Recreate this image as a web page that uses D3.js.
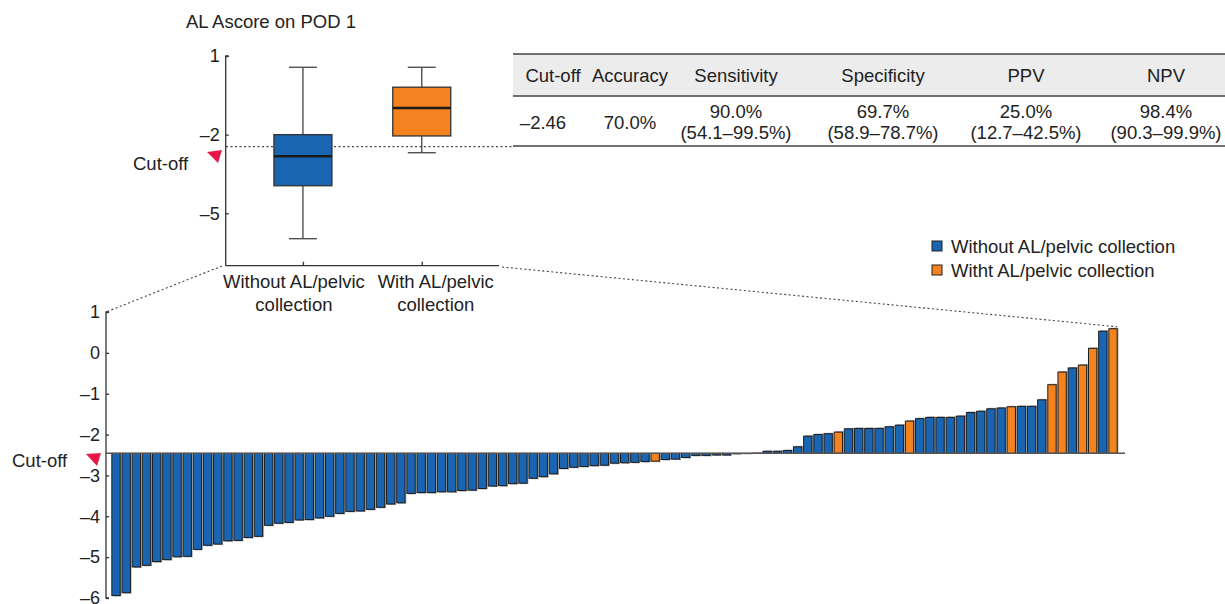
<!DOCTYPE html>
<html>
<head>
<meta charset="utf-8">
<script src="https://cdn.jsdelivr.net/npm/d3@7"></script>
<style>
  body { margin: 0; background: #fff; }
  text { font-family: "Liberation Sans", Arial, sans-serif; fill: #222; }
</style>
</head>
<body>
<div id="chart"></div>
<script>
// sorted AL Ascore per patient (bottom chart)
const values = [-5.94,-5.87,-5.24,-5.20,-5.11,-5.06,-4.99,-4.98,-4.81,-4.71,
  -4.68,-4.60,-4.59,-4.52,-4.49,-4.22,-4.17,-4.15,-4.09,-4.08,
  -4.04,-4.00,-3.93,-3.88,-3.87,-3.83,-3.78,-3.70,-3.67,-3.44,
  -3.42,-3.42,-3.40,-3.40,-3.37,-3.36,-3.32,-3.26,-3.25,-3.20,
  -3.19,-3.07,-3.03,-2.96,-2.83,-2.80,-2.78,-2.76,-2.75,-2.70,
  -2.69,-2.68,-2.66,-2.65,-2.61,-2.60,-2.56,-2.51,-2.51,-2.50,
  -2.50,-2.47,-2.465,-2.455,-2.41,-2.41,-2.39,-2.30,-2.04,-2.00,
  -1.98,-1.94,-1.86,-1.85,-1.85,-1.85,-1.81,-1.77,-1.67,-1.61,
  -1.58,-1.58,-1.58,-1.55,-1.46,-1.43,-1.37,-1.35,-1.32,-1.31,
  -1.31,-1.15,-0.78,-0.47,-0.37,-0.30,0.11,0.53,0.59];
// positions (in values) of patients with AL/pelvic collection
const alIndex = [53,71,78,88,92,93,95,96,98];
const cutoff = -2.46;

const categories = ["Without AL/pelvic collection", "With AL/pelvic collection"];
const catLines = [["Without AL/pelvic", "collection"], ["With AL/pelvic", "collection"]];
const boxMin = [-5.97, -2.69];
const boxQ1 = [-3.95, -2.05];
const boxMed = [-2.82, -0.98];
const boxQ3 = [-2.0, -0.19];
const boxMax = [0.57, 0.57];

const boxTicks = [1, -2, -5];
const barTicks = [1, 0, -1, -2, -3, -4, -5, -6];

const tableHead = ["Cut-off", "Accuracy", "Sensitivity", "Specificity", "PPV", "NPV"];
const tableRow = [["–2.46"], ["70.0%"], ["90.0%", "(54.1–99.5%)"], ["69.7%", "(58.9–78.7%)"],
  ["25.0%", "(12.7–42.5%)"], ["98.4%", "(90.3–99.9%)"]];

const legendLabels = ["Without AL/pelvic collection", "Witht AL/pelvic collection"];

const blue = "#1a65b1", orange = "#f4821f", red = "#e8174a", axisCol = "#333";
const fs = "18.5px", tickFs = "18px";
const fmt = d => String(d).replace("-", "–");

let svg = d3.select("#chart").append("svg")
  .attr("width", 1225)
  .attr("height", 604);

// ---------- box plot ----------
let by = d3.scaleLinear().domain([-7, 1]).range([265.7, 56]);
let bx = d3.scalePoint().domain(categories).range([225.7, 499]).padding(0.65);

svg.append("text")
  .attr("x", 186).attr("y", 28)
  .attr("font-size", fs)
  .text("AL Ascore on POD 1");

let gBoxY = svg.append("g")
  .attr("transform", "translate(225.7,0)")
  .call(d3.axisRight(by).tickValues(boxTicks).tickSize(3).tickFormat(fmt));
gBoxY.select(".domain").attr("d", "M3," + by(1) + "H0V" + by(-7));
gBoxY.selectAll("text").attr("x", -6).attr("text-anchor", "end").attr("font-size", tickFs)
  .attr("font-family", "Liberation Sans, Arial, sans-serif").attr("fill", "#222");

let gBoxX = svg.append("g")
  .attr("transform", "translate(0,265.7)")
  .call(d3.axisTop(bx).tickSize(4).tickFormat(""));
gBoxX.select(".domain").attr("d", "M225.7,0H499");
svg.selectAll(".domain, .tick line").attr("stroke", axisCol).attr("stroke-width", 1.3);

const labelShift = [-9, 14];
categories.forEach((c, i) => {
  let t = svg.append("text")
    .attr("text-anchor", "middle")
    .attr("font-size", fs);
  catLines[i].forEach((line, j) => {
    t.append("tspan")
      .attr("x", bx(c) + labelShift[i])
      .attr("y", 288 + j * 23)
      .text(line);
  });
});

// cut-off dotted line
svg.append("line")
  .attr("x1", 226).attr("x2", 513)
  .attr("y1", by(cutoff)).attr("y2", by(cutoff))
  .attr("stroke", "#444").attr("stroke-width", 1.2)
  .attr("stroke-dasharray", "2,2.5");

const boxW = 58, capW = 28;
categories.forEach((c, i) => {
  let cx = bx(c);
  let g = svg.append("g");
  g.append("line").attr("x1", cx).attr("x2", cx)
    .attr("y1", by(boxMax[i])).attr("y2", by(boxMin[i]))
    .attr("stroke", "#444").attr("stroke-width", 1.3);
  [boxMax[i], boxMin[i]].forEach(v => {
    g.append("line").attr("x1", cx - capW / 2).attr("x2", cx + capW / 2)
      .attr("y1", by(v)).attr("y2", by(v))
      .attr("stroke", "#444").attr("stroke-width", 1.3);
  });
  g.append("rect")
    .attr("x", cx - boxW / 2).attr("width", boxW)
    .attr("y", by(boxQ3[i])).attr("height", by(boxQ1[i]) - by(boxQ3[i]))
    .attr("fill", i === 0 ? blue : orange)
    .attr("stroke", "#333").attr("stroke-width", 1.3);
  g.append("line").attr("x1", cx - boxW / 2).attr("x2", cx + boxW / 2)
    .attr("y1", by(boxMed[i])).attr("y2", by(boxMed[i]))
    .attr("stroke", "#1a1a1a").attr("stroke-width", 2.5);
});

svg.append("text").attr("x", 133).attr("y", 170).attr("font-size", fs).text("Cut-off");
svg.append("path").attr("d", "M207,152L222,150L218,163Z").attr("fill", red);

// ---------- table ----------
const colX = [553, 630, 736, 883, 1026, 1166];
svg.append("rect").attr("x", 513).attr("y", 54).attr("width", 712).attr("height", 42)
  .attr("fill", "#ececec");
[54, 96, 146].forEach(y => {
  svg.append("line").attr("x1", 513).attr("x2", 1225).attr("y1", y).attr("y2", y)
    .attr("stroke", "#444").attr("stroke-width", 1.5);
});
tableHead.forEach((h, i) => {
  svg.append("text").attr("x", colX[i]).attr("y", 82).attr("text-anchor", "middle")
    .attr("font-size", fs).text(h);
});
tableRow.forEach((cell, i) => {
  let x = i === 0 ? colX[i] - 10 : colX[i];
  if (cell.length === 1) {
    svg.append("text").attr("x", x).attr("y", 129).attr("text-anchor", "middle")
      .attr("font-size", fs).text(cell[0]);
  } else {
    cell.forEach((line, j) => {
      svg.append("text").attr("x", x).attr("y", 118 + j * 21).attr("text-anchor", "middle")
        .attr("font-size", fs).text(line);
    });
  }
});

// ---------- legend ----------
legendLabels.forEach((l, i) => {
  svg.append("rect").attr("x", 932).attr("y", 241 + i * 24).attr("width", 10).attr("height", 10)
    .attr("fill", i === 0 ? blue : orange).attr("stroke", "#222").attr("stroke-width", 1);
  svg.append("text").attr("x", 951).attr("y", 253 + i * 24).attr("font-size", fs).text(l);
});

// ---------- bar chart ----------
let x = d3.scaleBand().domain(d3.range(values.length)).range([110, 1119]).paddingInner(0.18).paddingOuter(0.18);
let y = d3.scaleLinear().domain([-6, 1]).range([598, 312]);

let gY = svg.append("g")
  .attr("transform", "translate(106,0)")
  .call(d3.axisRight(y).tickValues(barTicks).tickSize(3).tickFormat(fmt));
gY.select(".domain").attr("d", "M3," + y(1) + "H0V" + y(-6) + "H3")
  .attr("stroke", axisCol).attr("stroke-width", 1.3);
gY.selectAll(".tick line").attr("stroke", axisCol).attr("stroke-width", 1.3);
gY.selectAll("text").attr("x", -6).attr("text-anchor", "end").attr("font-size", tickFs)
  .attr("font-family", "Liberation Sans, Arial, sans-serif").attr("fill", "#222");

// shadows
svg.append("g").selectAll("rect").data(values).join("rect")
  .attr("x", (d, i) => x(i) + 1.3)
  .attr("width", x.bandwidth())
  .attr("y", d => Math.min(y(d), y(cutoff)) + (d < cutoff ? 1 : -1))
  .attr("height", d => Math.abs(y(d) - y(cutoff)))
  .attr("fill", "#a8a8a8");

svg.append("g").selectAll("rect").data(values).join("rect")
  .attr("x", (d, i) => x(i))
  .attr("width", x.bandwidth())
  .attr("y", d => Math.min(y(d), y(cutoff)))
  .attr("height", d => Math.abs(y(d) - y(cutoff)))
  .attr("fill", (d, i) => alIndex.includes(i) ? orange : blue)
  .attr("stroke", "#1c1c1c").attr("stroke-width", 1);

svg.append("line")
  .attr("x1", 106).attr("x2", 1125)
  .attr("y1", y(cutoff)).attr("y2", y(cutoff))
  .attr("stroke", "#555").attr("stroke-width", 1.5);

svg.append("text").attr("x", 12).attr("y", 467).attr("font-size", fs).text("Cut-off");
svg.append("path").attr("d", "M86,454L101,453L97,466Z").attr("fill", red);

// zoom connector lines
const last = values.length - 1;
svg.append("line")
  .attr("x1", 222).attr("y1", 266).attr("x2", 106).attr("y2", y(1))
  .attr("stroke", "#444").attr("stroke-width", 1.1).attr("stroke-dasharray", "2,2.5");
svg.append("line")
  .attr("x1", 502).attr("y1", 267).attr("x2", x(last) + x.bandwidth()).attr("y2", y(values[last]) - 2)
  .attr("stroke", "#444").attr("stroke-width", 1.1).attr("stroke-dasharray", "2,2.5");
</script>
</body>
</html>
